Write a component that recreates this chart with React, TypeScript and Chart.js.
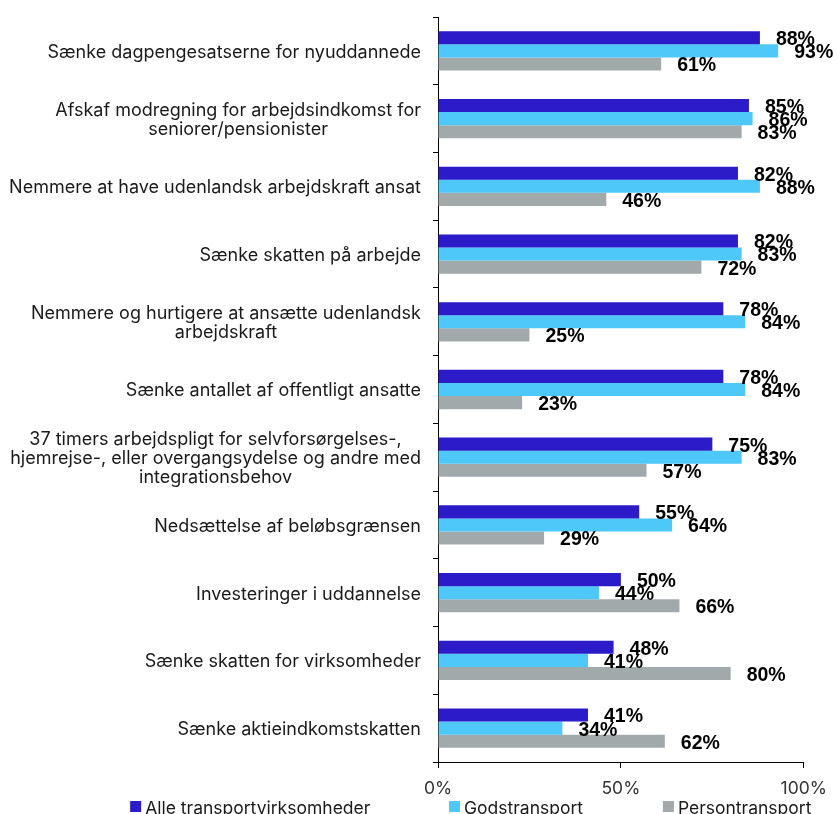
import React, { useEffect, useRef } from "react";
import { Chart, registerables } from "chart.js";

Chart.register(...registerables);

const categories: string[][] = [
  ["Sænke dagpengesatserne for nyuddannede"],
  ["Afskaf modregning for arbejdsindkomst for", "seniorer/pensionister"],
  ["Nemmere at have udenlandsk arbejdskraft ansat"],
  ["Sænke skatten på arbejde"],
  ["Nemmere og hurtigere at ansætte udenlandsk", "arbejdskraft"],
  ["Sænke antallet af offentligt ansatte"],
  [
    "37 timers arbejdspligt for selvforsørgelses-,",
    "hjemrejse-, eller overgangsydelse og andre med",
    "integrationsbehov",
  ],
  ["Nedsættelse af beløbsgrænsen"],
  ["Investeringer i uddannelse"],
  ["Sænke skatten for virksomheder"],
  ["Sænke aktieindkomstskatten"],
];

const alleValues = [88, 85, 82, 82, 78, 78, 75, 55, 50, 48, 41];
const godsValues = [93, 86, 88, 83, 84, 84, 83, 64, 44, 41, 34];
const personValues = [61, 83, 46, 72, 25, 23, 57, 29, 66, 80, 62];

const seriesNames = ["Alle transportvirksomheder", "Godstransport", "Persontransport"];
const seriesColors = ["#2b1bc9", "#4dc8f8", "#a2a9ab"];
const xTickValues = [0, 50, 100];

const FONT = "Inter, 'Noto Sans', sans-serif";
const BOLD_FONT = "'Liberation Sans', Arial, sans-serif";

const legendXFractions = [0.1555, 0.5365, 0.792];

const customPlugin = {
  id: "customLabels",
  afterDatasetsDraw(chart: any) {
    const ctx: CanvasRenderingContext2D = chart.ctx;
    ctx.save();
    // data labels
    ctx.font = `bold 19.5px ${BOLD_FONT}`;
    ctx.fillStyle = "#000";
    ctx.textAlign = "left";
    ctx.textBaseline = "middle";
    chart.data.datasets.forEach((ds: any, di: number) => {
      const meta = chart.getDatasetMeta(di);
      meta.data.forEach((bar: any, i: number) => {
        ctx.fillText(`${ds.data[i]}%`, bar.x + 16, bar.y + 2);
      });
    });
    // category labels
    const yScale = chart.scales.y;
    ctx.font = `18px ${FONT}`;
    ctx.fillStyle = "#1a1a1a";
    ctx.textAlign = "center";
    const right = yScale.right - 17;
    const lh = 19;
    categories.forEach((lines, i) => {
      const cy = yScale.getPixelForValue(i) + 1.5;
      const w = Math.max(...lines.map((l) => ctx.measureText(l).width));
      const cx = right - w / 2;
      lines.forEach((l, j) => {
        ctx.fillText(l, cx, cy + (j - (lines.length - 1) / 2) * lh);
      });
    });
    // legend
    const W = chart.width;
    const H = chart.height;
    ctx.textAlign = "left";
    ctx.textBaseline = "alphabetic";
    ctx.font = `17.5px ${FONT}`;
    seriesNames.forEach((name, i) => {
      const x = W * legendXFractions[i];
      ctx.fillStyle = seriesColors[i];
      ctx.fillRect(x, H - 13, 11, 11);
      ctx.fillStyle = "#1a1a1a";
      ctx.fillText(name, x + 15, H);
    });
    ctx.restore();
  },
};

export default function App() {
  const ref = useRef<HTMLCanvasElement | null>(null);
  useEffect(() => {
    document.body.style.margin = "0";
    document.body.style.overflow = "hidden";
    if (!ref.current) return;
    const chart = new Chart(ref.current, {
      type: "bar",
      data: {
        labels: categories.map((c) => c.join(" ")),
        datasets: [alleValues, godsValues, personValues].map((d, i) => ({
          label: seriesNames[i],
          data: d,
          backgroundColor: seriesColors[i],
          borderWidth: 0,
          categoryPercentage: 0.58,
          barPercentage: 1.0,
        })),
      },
      options: {
        indexAxis: "y",
        animation: false,
        responsive: true,
        maintainAspectRatio: false,
        layout: { padding: { top: 17, right: 32, bottom: 0, left: 0 } },
        plugins: {
          legend: { display: false },
          tooltip: { enabled: false },
        },
        scales: {
          x: {
            min: 0,
            max: 100,
            afterBuildTicks: (scale: any) => {
              scale.ticks = xTickValues.map((v) => ({ value: v }));
            },
            afterFit: (scale: any) => {
              scale.height = 52;
            },
            ticks: {
              callback: (v: any) => `${v}%`,
              font: { family: FONT, size: 17.5 },
              color: "#333",
              padding: 10,
              maxRotation: 0,
            },
            grid: {
              drawOnChartArea: false,
              tickLength: 6,
              color: "#000",
            },
            border: { display: true, color: "#000", width: 1 },
          },
          y: {
            afterFit: (scale: any) => {
              scale.width = 438;
            },
            ticks: { display: false },
            grid: {
              drawOnChartArea: false,
              tickLength: 5,
              color: "#000",
              offset: true,
            },
            border: { display: true, color: "#000", width: 1 },
          },
        },
      },
      plugins: [customPlugin],
    });
    return () => chart.destroy();
  }, []);
  return (
    <div style={{ width: 837, height: 814, position: "relative" }}>
      <canvas ref={ref} />
    </div>
  );
}
